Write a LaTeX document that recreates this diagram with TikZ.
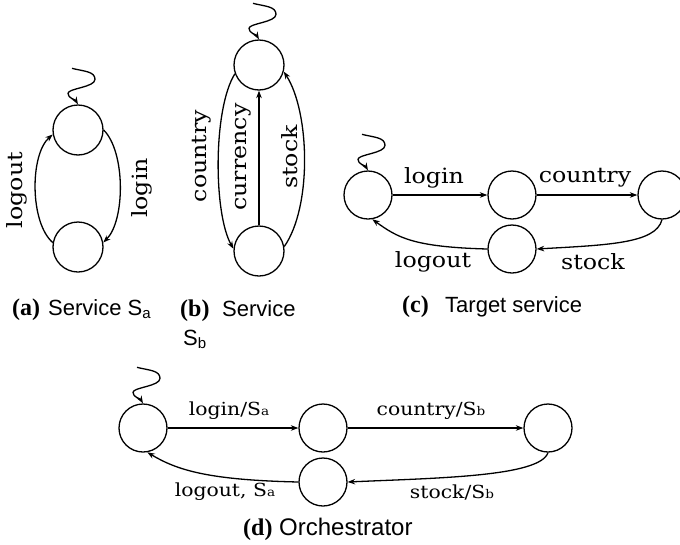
\documentclass[tikz,border=0pt]{standalone}
\usepackage{fontspec}
\setmainfont{Liberation Sans}
\newfontfamily\lblfont{DejaVu Serif}[FakeStretch=1.13]
\newfontfamily\capfont{Liberation Serif}
\usetikzlibrary{arrows.meta,calc}
\tikzset{
 st/.style={circle, draw, line width=1.3pt, minimum size=50pt, inner sep=0pt},
 stsm/.style={st, minimum size=48pt},
 trans/.style={line width=1.3pt, -{Stealth[length=7.5pt,width=5.5pt]}},
 lbl/.style={font=\lblfont\fontsize{21}{21}\selectfont, inner sep=0pt},
 lbld/.style={font=\lblfont\fontsize{18}{18}\selectfont, inner sep=0pt},
 capl/.style={font=\capfont\bfseries\fontsize{24}{24}\selectfont, inner sep=0pt, anchor=base west},
 capt/.style={font=\fontsize{22}{22}\selectfont, inner sep=0pt, anchor=base west},
}
\newcommand{\initarr}[1]{\draw[trans] ($(#1.north)+(-6,-36)$) .. controls +(12,3) and +(0,-8) .. ($(#1.north)+(17,-25)$) .. controls +(0,8) and +(0,-5) .. ($(#1.north)+(-10,-11)$) .. controls +(0,5) and +(-3,-5) .. (#1.north);}
\newcommand{\lsub}[1]{{\fontsize{12}{12}\selectfont #1}}
\newcommand{\csub}[1]{\raisebox{-3pt}{\fontsize{15}{15}\selectfont #1}}
\begin{document}
\begin{tikzpicture}[x=1pt,y=-1pt]
\useasboundingbox (0,0) rectangle (680,544);
% (a)
\node[st] (A1) at (78,130) {};
\node[st] (A2) at (78,247) {};
\initarr{A1}
\draw[trans] (A1.east) .. controls +(22,22) and +(22,-22) .. (A2.10);
\draw[trans] (A2.170) .. controls +(-23,-20) and +(-23,20) .. (A1.190);
\node[lbl, rotate=90] (la1) at (17,190) {logout};
\node[lbl, rotate=90] (la2) at (142,188) {login};
% (b)
\node[st] (B1) at (259,65) {};
\node[st] (B2) at (259,251) {};
\initarr{B1}
\draw[trans] (B1.200) .. controls +(-22,35) and +(-20,-35) .. (B2.175);
\draw[trans] (B2.north) -- (B1.south);
\draw[trans] (B2.10) .. controls +(28,-40) and +(26,40) .. (B1.-15);
\node[lbl, rotate=90] (lb1) at (202,156) {country};
\node[lbl, rotate=90] (lb2) at (243,157) {currency};
\node[lbl, rotate=90] (lb3) at (290,157) {stock};
% (c)
\node[stsm] (C1) at (368,195) {};
\node[stsm] (C2) at (512,195) {};
\node[stsm] (C3) at (662,195) {};
\node[stsm] (C4) at (512,249) {};
\initarr{C1}
\draw[trans] (C1) -- (C2);
\draw[trans] (C2) -- (C3);
\draw[trans] (C3.south) .. controls +(-6,24) and +(70,-4) .. (C4.east);
\draw[trans] (C4.west) .. controls +(-75,-2) and +(25,18) .. (C1.-80);
\node[lbl] (lc1) at (434,178) {login};
\node[lbl] (lc2) at (585,178) {country};
\node[lbl] (lc3) at (433,262) {logout};
\node[lbl] (lc4) at (593,262) {stock};
% (d)
\node[stsm] (D1) at (143,428) {};
\node[stsm] (D2) at (323,428) {};
\node[stsm] (D3) at (548,428) {};
\node[stsm] (D4) at (323,482) {};
\initarr{D1}
\draw[trans] (D1) -- (D2);
\draw[trans] (D2) -- (D3);
\draw[trans] (D3.south) .. controls +(-8,24) and +(90,-4) .. (D4.east);
\draw[trans] (D4.west) .. controls +(-90,-2) and +(30,18) .. (D1.-80);
\node[lbld] (ld1) at (229,411) {login/S\lsub{a}};
\node[lbld] (ld2) at (431,411) {country/S\lsub{b}};
\node[lbld] (ld3) at (225,492) {logout, S\lsub{a}};
\node[lbld] (ld4) at (452,492) {stock/S\lsub{b}};
% captions
\node[capl] (capal) at (12,315) {(a)};
\node[capt] (capat) at (48,315) {Service S\csub{a}};
\node[capl] (capbl) at (180,316) {(b)};
\node[capt] (capbt) at (222,316) {Service};
\node[capt] (capbs) at (183,345) {S\csub{b}};
\node[capl] (capcl) at (402,312) {(c)};
\node[capt] (capct) at (445,312) {Target service};
\node[capl] (capdl) at (243,535) {(d)};
\node[capt, font=\fontsize{24}{24}\selectfont] (capdt) at (279,535) {Orchestrator};
\end{tikzpicture}
\end{document}
